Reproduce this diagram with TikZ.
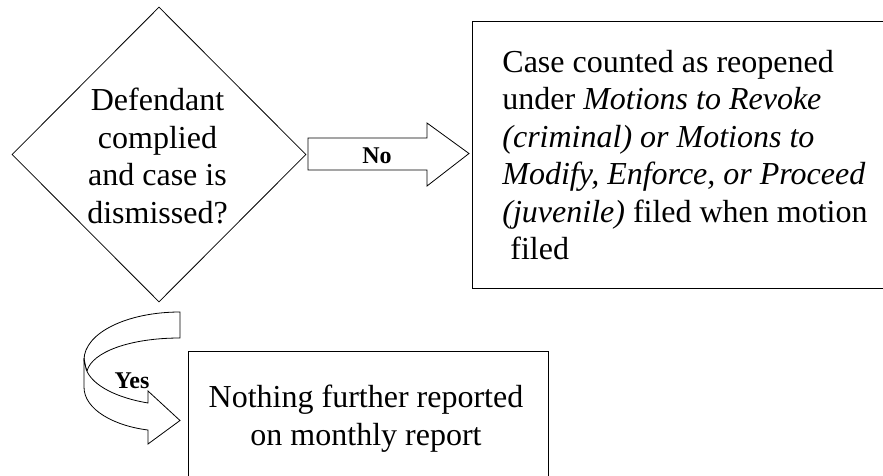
\documentclass[tikz,border=0pt]{standalone}
\usepackage{fontspec}
\setmainfont{Liberation Serif}
\usetikzlibrary{shapes.geometric}
\begin{document}
\begin{tikzpicture}[x=1pt,y=-1pt,line width=0.8pt,
  bigtext/.style={font=\fontsize{32}{37.5}\selectfont,inner sep=0pt},
  lbl/.style={font=\fontsize{24}{26}\selectfont\bfseries,inner sep=0pt},
  shapebox/.style={draw,rectangle,inner sep=0pt,anchor=north west}]
\useasboundingbox (0,0) rectangle (883,476);
% decision diamond
\node[draw,diamond,minimum width=294pt,minimum height=295pt,inner sep=0pt] (dec) at (159,154.5) {};
\node[bigtext,align=center,anchor=base] (dectext) at (157.5,223)
  {Defendant\\complied\\and case is\\dismissed?};
% right box
\node[shapebox,minimum width=414pt,minimum height=267pt] (reopen) at (472,21) {};
\node[bigtext,align=left,anchor=base west] (reopentext) at (502,259.5)
  {Case counted as reopened\\
   under \textit{Motions to Revoke}\\
   \textit{(criminal) or Motions to}\\
   \textit{Modify, Enforce, or Proceed}\\
   \textit{(juvenile)} filed when motion\\
   \ filed};
% bottom box
\node[shapebox,minimum width=360pt,minimum height=130pt] (nothing) at (188,351) {};
\node[bigtext,align=center,anchor=base] (nothingtext) at (366,445)
  {Nothing further reported\\on monthly report};
% No block arrow
\draw[fill=white] (308,138) -- (427,138) -- (427,123) -- (469,153.5) -- (427,186)
  -- (427,170) -- (308,170) -- cycle;
\node[lbl,anchor=base] (no) at (377,163) {No};
% Yes curved arrow
\draw[fill=white] (180,312) -- (180,338)
  .. controls (130,338) and (92,352) .. (87,371)
  .. controls (84,362) and (84,360) .. (84,360)
  .. controls (84,333) and (127,312) .. (180,312) -- cycle;
\draw[fill=white] (84,358) -- (84,387)
  .. controls (84,410) and (115,426) .. (148,430)
  -- (148,444) -- (180,420.5) -- (148,391) -- (148,403)
  .. controls (118,398) and (92,386) .. (86,369) -- cycle;
\node[lbl,anchor=base] (yes) at (132,388) {Yes};
\end{tikzpicture}
\end{document}
